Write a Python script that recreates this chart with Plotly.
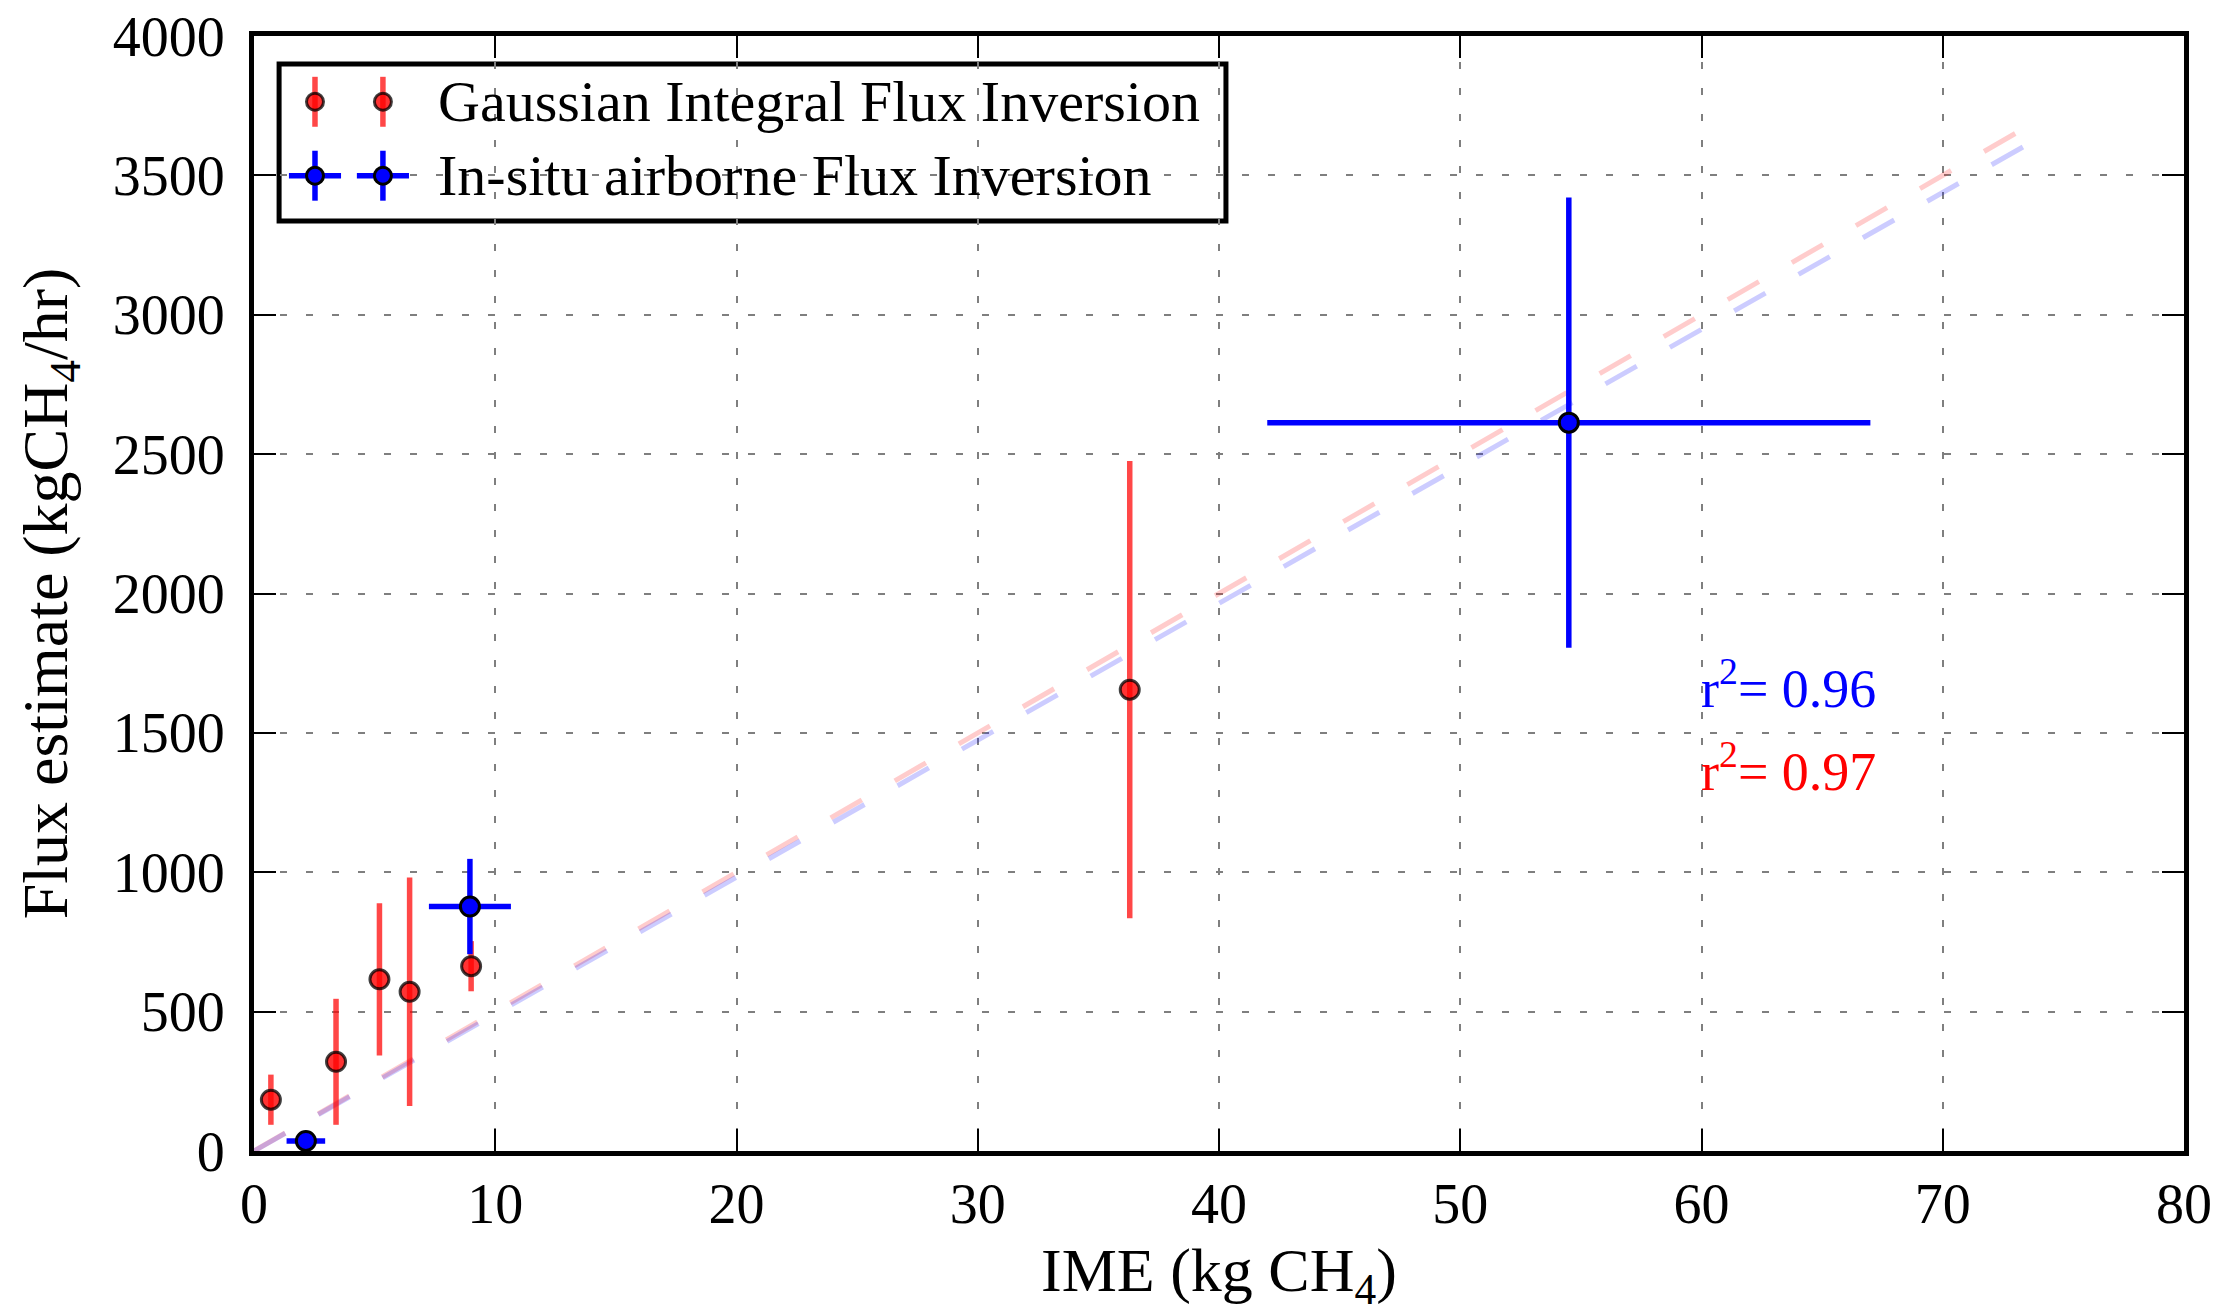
import plotly.graph_objects as go

# ---- data ----
gauss_x = [0.7, 3.4, 5.2, 6.45, 9.0, 36.3]
gauss_y = [184, 320, 616, 571, 663, 1655]
gauss_err = [90, 226, 273, 410, 90, 820]

insitu_x = [2.15, 8.95, 54.5]
insitu_y = [36, 877, 2613]
insitu_xerr = [0.8, 1.7, 12.5]
insitu_yerr = [0, 171, 808]

fit_x = [0, 74.2]
gauss_fit_y = [0, 3710]
insitu_fit_y = [0, 3645]

x_ticks = [0, 10, 20, 30, 40, 50, 60, 70, 80]
y_ticks = [0, 500, 1000, 1500, 2000, 2500, 3000, 3500, 4000]

legend_labels = ["Gaussian Integral Flux Inversion", "In-situ airborne Flux Inversion"]
r2_labels = ["r<sup>2</sup>= 0.96", "r<sup>2</sup>= 0.97"]
x_title = "IME (kg CH<sub>4</sub>)"
y_title = "Flux estimate (kgCH<sub>4</sub>/hr)"

FONT = "Liberation Serif"
RED_BAR = "rgba(255,0,0,0.72)"
RED_FILL = "rgba(255,0,0,0.8)"
EDGE = "rgba(0,0,0,0.75)"

fig = go.Figure()

# fit lines
fig.add_trace(go.Scatter(x=fit_x, y=gauss_fit_y, mode="lines",
                         line=dict(color="rgba(255,0,0,0.2)", width=5, dash="36px,38px"),
                         showlegend=False, hoverinfo="skip"))
fig.add_trace(go.Scatter(x=fit_x, y=insitu_fit_y, mode="lines",
                         line=dict(color="rgba(0,0,255,0.2)", width=5, dash="36px,38px"),
                         showlegend=False, hoverinfo="skip"))

# Gaussian points
fig.add_trace(go.Scatter(x=gauss_x, y=gauss_y, mode="markers",
                         error_y=dict(type="data", array=gauss_err, color=RED_BAR, thickness=5.5, width=0),
                         marker=dict(size=19, color=RED_FILL, line=dict(color=EDGE, width=3)),
                         showlegend=False))
# In-situ points
fig.add_trace(go.Scatter(x=insitu_x, y=insitu_y, mode="markers",
                         error_y=dict(type="data", array=insitu_yerr, color="blue", thickness=5.5, width=0),
                         error_x=dict(type="data", array=insitu_xerr, color="blue", thickness=5.5, width=0),
                         marker=dict(size=19, color="blue", line=dict(color="black", width=3)),
                         showlegend=False))

# ---- custom legend (overlay axes in plot-fraction units) ----
leg_mx = [0.0316, 0.0668]
leg_rows = [0.941, 0.8747]
fig.add_trace(go.Scatter(x=leg_mx, y=[leg_rows[0]] * 2, mode="markers", xaxis="x2", yaxis="y2",
                         error_y=dict(type="constant", value=0.0224, color=RED_BAR, thickness=5.5, width=0),
                         marker=dict(size=17, color=RED_FILL, line=dict(color=EDGE, width=3)),
                         showlegend=False, hoverinfo="skip"))
fig.add_trace(go.Scatter(x=leg_mx, y=[leg_rows[1]] * 2, mode="markers", xaxis="x2", yaxis="y2",
                         error_y=dict(type="constant", value=0.0224, color="blue", thickness=5.5, width=0),
                         error_x=dict(type="constant", value=0.0135, color="blue", thickness=5.5, width=0),
                         marker=dict(size=17, color="blue", line=dict(color="black", width=3)),
                         showlegend=False, hoverinfo="skip"))

annotations = []
for lbl, yy in zip(legend_labels, leg_rows):
    annotations.append(dict(text=lbl, xref="paper", yref="paper", x=0.0945, y=yy,
                            xanchor="left", yanchor="middle", showarrow=False,
                            font=dict(family=FONT, size=58, color="black")))
annotations.append(dict(text=r2_labels[0], xref="x", yref="y", x=59.9, y=1675,
                        xanchor="left", yanchor="middle", showarrow=False,
                        font=dict(family=FONT, size=54, color="blue")))
annotations.append(dict(text=r2_labels[1], xref="x", yref="y", x=59.9, y=1375,
                        xanchor="left", yanchor="middle", showarrow=False,
                        font=dict(family=FONT, size=54, color="red")))
annotations.append(dict(text=x_title, xref="paper", yref="paper", x=0.5, y=-0.111,
                        xanchor="center", yanchor="middle", showarrow=False,
                        font=dict(family=FONT, size=62, color="black")))

shapes = [dict(type="rect", xref="paper", yref="paper", x0=0.013, x1=0.5036, y0=0.834, y1=0.975,
               line=dict(color="black", width=5), fillcolor="white", layer="between")]

axis_common = dict(showline=True, linecolor="black", linewidth=5, mirror="allticks",
                   ticks="inside", ticklen=22, tickwidth=2, tickcolor="black",
                   showgrid=True, gridcolor="#7f7f7f", gridwidth=2, griddash="7px,19px",
                   zeroline=False, automargin=False, ticklabeloverflow="allow",
                   tickfont=dict(family=FONT, size=56, color="black"))

# the page body adds an 8px margin, so the figure is 8px smaller and margins shifted
fig.update_layout(
    width=2226, height=1299,
    margin=dict(l=246, r=50, t=28, b=156),
    paper_bgcolor="white", plot_bgcolor="white",
    xaxis=dict(range=[0, 80], tickvals=x_ticks, ticktext=[str(v) for v in x_ticks],
               ticklabelstandoff=0, **axis_common),
    yaxis=dict(range=[0, 4000], tickvals=y_ticks, ticktext=[str(v) for v in y_ticks],
               ticklabelstandoff=13,
               title=dict(text=y_title, font=dict(family=FONT, size=64, color="black"), standoff=26),
               **axis_common),
    xaxis2=dict(range=[0, 1], overlaying="x", visible=False, fixedrange=True),
    yaxis2=dict(range=[0, 1], overlaying="y", visible=False, fixedrange=True),
    annotations=annotations,
    shapes=shapes,
    showlegend=False,
)

fig.write_html("out.html")
